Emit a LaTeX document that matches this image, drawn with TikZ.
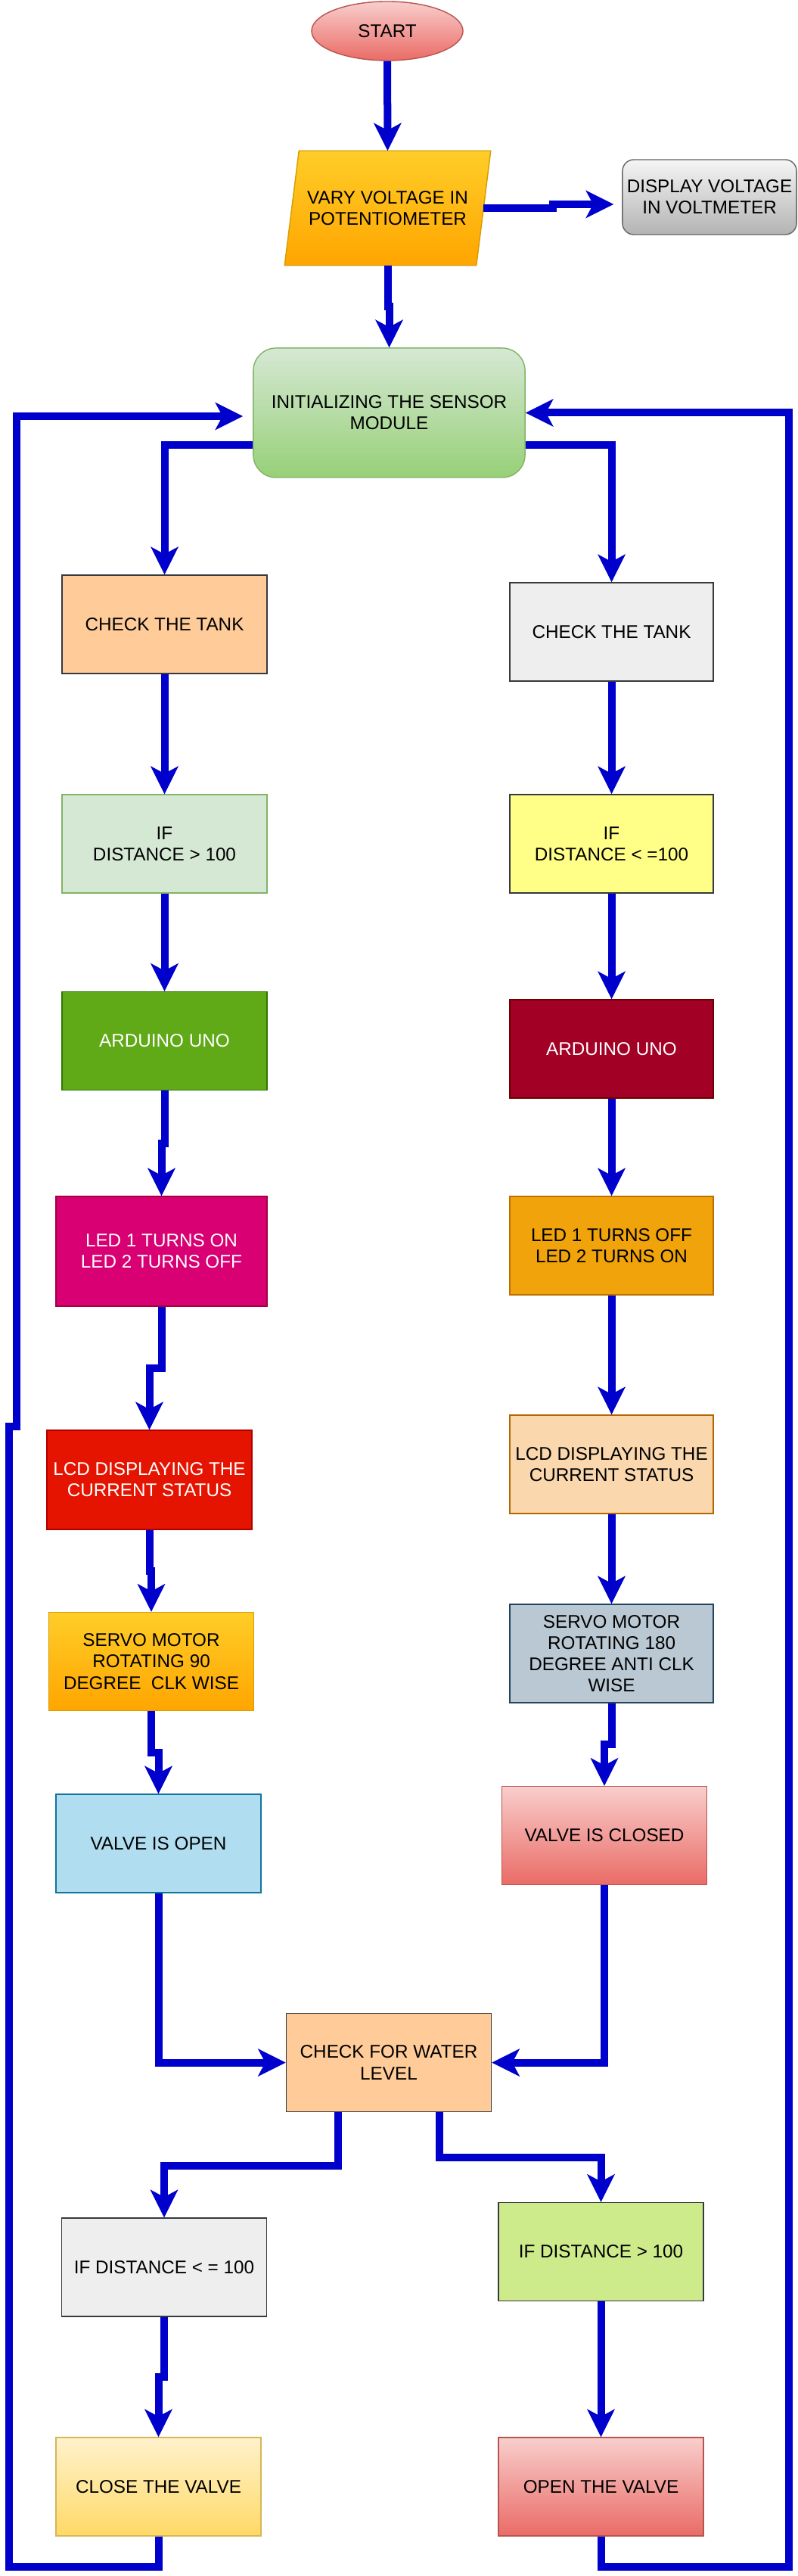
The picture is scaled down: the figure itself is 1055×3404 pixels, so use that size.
\documentclass[tikz,border=0pt]{standalone}
\usepackage{fontspec}
\setmainfont{Liberation Sans}
\usetikzlibrary{arrows.meta,calc,shapes.geometric,backgrounds}

\definecolor{flowblue}{HTML}{0000CC}
\definecolor{darkline}{HTML}{36393D}
\definecolor{pinktop}{HTML}{F8CECC}
\definecolor{pinkbot}{HTML}{EA6B66}
\definecolor{pinkline}{HTML}{B85450}
\definecolor{orangetop}{HTML}{FFCD28}
\definecolor{orangebot}{HTML}{FFA500}
\definecolor{orangeline}{HTML}{D79B00}
\definecolor{graytop}{HTML}{F5F5F5}
\definecolor{graybot}{HTML}{B3B3B3}
\definecolor{grayline}{HTML}{666666}
\definecolor{greentop}{HTML}{D5E8D4}
\definecolor{greenbot}{HTML}{97D077}
\definecolor{greenline}{HTML}{82B366}
\definecolor{peachfill}{HTML}{FFCC99}
\definecolor{palegray}{HTML}{EEEEEE}
\definecolor{paleyellow}{HTML}{FFFF88}
\definecolor{unogreen}{HTML}{60A917}
\definecolor{unogreenline}{HTML}{2D7600}
\definecolor{unored}{HTML}{A20025}
\definecolor{unoredline}{HTML}{6F0000}
\definecolor{ledpink}{HTML}{D80073}
\definecolor{ledpinkline}{HTML}{A50040}
\definecolor{ledamber}{HTML}{F0A30A}
\definecolor{ledamberline}{HTML}{BD7000}
\definecolor{lcdred}{HTML}{E51400}
\definecolor{lcdredline}{HTML}{B20000}
\definecolor{lcdtan}{HTML}{FAD7AC}
\definecolor{lcdtanline}{HTML}{B46504}
\definecolor{servosteel}{HTML}{BAC8D3}
\definecolor{servosteelline}{HTML}{23445D}
\definecolor{valvesky}{HTML}{B1DDF0}
\definecolor{valveskyline}{HTML}{10739E}
\definecolor{limefill}{HTML}{CDEB8B}
\definecolor{yellowtop}{HTML}{FFF2CC}
\definecolor{yellowbot}{HTML}{FFD966}
\definecolor{yellowline}{HTML}{D6B656}

\begin{document}
\begin{tikzpicture} [x = 0.01cm, y = -0.01cm,
	box/.style = {rectangle, draw = darkline, line width = 0.4pt, inner sep = 0pt, align = center, minimum width = 2.71cm, minimum height = 1.3cm, font = \fontsize{6.9}{8}\selectfont},
	flow/.style = {draw = flowblue, line width = 0.1cm, -{Stealth[length = 0.37cm, width = 0.37cm, inset = 0.1cm, line width = 0pt]}}]
	\useasboundingbox (0,0) rectangle (1055,3404);
	\node [box, ellipse, draw = pinkline, top color = pinktop, bottom color = pinkbot, minimum width = 2cm, minimum height = 0.78cm] (start) at (512,41) {START};
	\node [box, draw = none, minimum width = 2.52cm, minimum height = 1.5cm] (volt) at (512.5,275) {VARY VOLTAGE IN\\POTENTIOMETER};
	\begin{scope} [on background layer]
	\path [draw = orangeline, line width = 0.4pt, top color = orangetop, bottom color = orangebot] ($(volt.south west)+(-9.5,0)$) -- ($(volt.north west)+(9.5,0)$) -- ($(volt.north east)+(9.5,0)$) -- ($(volt.south east)+(-9.5,0)$) -- cycle;
	\end{scope}
	\node [box, rounded corners = 0.15cm, draw = grayline, top color = graytop, bottom color = graybot, minimum width = 2.3cm, minimum height = 0.99cm] (disp) at (938,260.5) {DISPLAY VOLTAGE\\IN VOLTMETER};
	\node [box, rounded corners = 0.3cm, draw = greenline, top color = greentop, bottom color = greenbot, minimum width = 3.59cm, minimum height = 1.71cm] (init) at (514.5,545.5) {INITIALIZING THE SENSOR\\MODULE};
	\node [box, fill = peachfill] (tankL) at (217.5,825) {CHECK THE TANK};
	\node [box, fill = palegray, minimum width = 2.69cm] (tankR) at (808.5,835) {CHECK THE TANK};
	\node [box, draw = greenline, fill = greentop] (ifL) at (217.5,1115) {IF\\DISTANCE > 100};
	\node [box, fill = paleyellow, minimum width = 2.69cm] (ifR) at (808.5,1115) {IF\\DISTANCE < =100};
	\node [box, draw = unogreenline, fill = unogreen, text = white] (unoL) at (217.5,1375.5) {ARDUINO UNO};
	\node [box, draw = unoredline, fill = unored, text = white, minimum width = 2.69cm] (unoR) at (808.5,1386) {ARDUINO UNO};
	\node [box, draw = ledpinkline, fill = ledpink, text = white, minimum width = 2.79cm, minimum height = 1.45cm] (ledL) at (213.5,1653.5) {LED 1 TURNS ON\\LED 2 TURNS OFF};
	\node [box, draw = ledamberline, fill = ledamber, minimum width = 2.69cm] (ledR) at (808.5,1646) {LED 1 TURNS OFF\\LED 2 TURNS ON};
	\node [box, draw = lcdredline, fill = lcdred, text = white, minimum height = 1.31cm] (lcdL) at (197.5,1955.5) {LCD DISPLAYING THE\\CURRENT STATUS};
	\node [box, draw = lcdtanline, fill = lcdtan, minimum width = 2.69cm] (lcdR) at (808.5,1935) {LCD DISPLAYING THE\\CURRENT STATUS};
	\node [box, draw = orangeline, top color = orangetop, bottom color = orangebot] (servoL) at (200,2195.5) {SERVO MOTOR\\ROTATING 90\\DEGREE \ CLK WISE};
	\node [box, draw = servosteelline, fill = servosteel, minimum width = 2.69cm] (servoR) at (808.5,2185) {SERVO MOTOR\\ROTATING 180\\DEGREE ANTI CLK\\WISE};
	\node [box, draw = valveskyline, fill = valvesky] (openedL) at (209.5,2436) {VALVE IS OPEN};
	\node [box, draw = pinkline, top color = pinktop, bottom color = pinkbot] (closedR) at (799,2425.5) {VALVE IS CLOSED};
	\node [box, fill = peachfill] (level) at (514,2725.5) {CHECK FOR WATER\\LEVEL};
	\node [box, fill = palegray] (lowL) at (217,2996) {IF DISTANCE < = 100};
	\node [box, fill = limefill] (highR) at (794.5,2975.5) {IF DISTANCE > 100};
	\node [box, draw = yellowline, top color = yellowtop, bottom color = yellowbot] (closeL) at (209.5,3286) {CLOSE THE VALVE};
	\node [box, draw = pinkline, top color = pinktop, bottom color = pinkbot] (openR) at (794.5,3286) {OPEN THE VALVE};
	\draw [flow] (start.south) -- (volt.north);
	\draw [flow] (volt.east) -- ++(91.5,0) |- ($(disp.west)+(-11,9.5)$);
	\draw [flow] (volt.south) |- ($(volt.south)!0.5!(init.north)$) -| (init.north);
	\draw [flow] ($(init.west)+(0,42.5)$) -| (tankL.north);
	\draw [flow] ($(init.east)+(0,42.5)$) -| (tankR.north);
	\draw [flow] (tankL.south) -- (ifL.north);
	\draw [flow] (ifL.south) -- (unoL.north);
	\draw [flow] (unoL.south) |- ($(unoL.south)!0.5!(ledL.north)$) -| (ledL.north);
	\draw [flow] (ledL.south) |- ($(ledL.south)!0.5!(lcdL.north)$) -| (lcdL.north);
	\draw [flow] (lcdL.south) |- ($(lcdL.south)!0.5!(servoL.north)$) -| (servoL.north);
	\draw [flow] (servoL.south) |- ($(servoL.south)!0.5!(openedL.north)$) -| (openedL.north);
	\draw [flow] (tankR.south) -- (ifR.north);
	\draw [flow] (ifR.south) -- (unoR.north);
	\draw [flow] (unoR.south) -- (ledR.north);
	\draw [flow] (ledR.south) -- (lcdR.north);
	\draw [flow] (lcdR.south) -- (servoR.north);
	\draw [flow] (servoR.south) |- ($(servoR.south)!0.5!(closedR.north)$) -| (closedR.north);
	\draw [flow] (openedL.south) |- (level.west);
	\draw [flow] (closedR.south) |- (level.east);
	\draw [flow] ($(level.south)+(-67,0)$) -- ++(0,71) -| (lowL.north);
	\draw [flow] ($(level.south)+(67,0)$) -- ++(0,60) -| (highR.north);
	\draw [flow] (lowL.south) |- ($(lowL.south)!0.5!(closeL.north)$) -| (closeL.north);
	\draw [flow] (highR.south) -- (openR.north);
	\draw [flow] (closeL.south) -- ++(0,40) -| (12,1885) -| (22,550) -- ($(init.west)+(-13,4.5)$);
	\draw [flow] (openR.south) -- ++(0,40) -| (1043,545.5) -- (init.east);
\end{tikzpicture}
\end{document}
